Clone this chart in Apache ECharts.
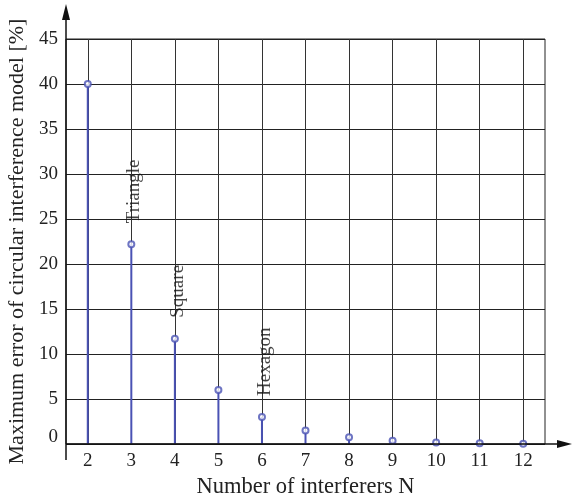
<!DOCTYPE html>
<html><head><meta charset="utf-8">
<script src="https://cdn.jsdelivr.net/npm/echarts@6/dist/echarts.min.js"></script>
<style>html,body{margin:0;padding:0;background:#fff}#c{width:573px;height:495px}</style>
</head><body><div id="c"></div>
<script>
const categories = ['2','3','4','5','6','7','8','9','10','11','12'];
const errorValues = [40, 22.2, 11.7, 6.0, 3.0, 1.5, 0.75, 0.35, 0.16, 0.07, 0.03];
const shapeLabels = ['', 'Triangle', 'Square', '', 'Hexagon', '', '', '', '', '', ''];
const yMin = 0, yMax = 45, yStep = 5;
const xTitle = 'Number of interferers N';
const yTitle = 'Maximum error of circular interference model [%]';

const FONT = 'Liberation Serif';
const BLUE = '#4a52b4';
const GRID = {left: 66, right: 28, top: 39, bottom: 51};
const W = 573, H = 495;
const x0 = GRID.left, y0 = H - GRID.bottom;

const chart = echarts.init(document.getElementById('c'), null, {renderer: 'canvas'});
chart.setOption({
  animation: false,
  textStyle: {fontFamily: FONT},
  grid: Object.assign({show: true, borderColor: '#222', borderWidth: 1, backgroundColor: 'transparent',
    containLabel: false, outerBoundsMode: 'none'}, GRID),
  xAxis: {
    type: 'category', data: categories, boundaryGap: true,
    axisLine: {show: false}, axisTick: {show: false}, splitLine: {show: false},
    axisLabel: {fontFamily: FONT, fontSize: 19, color: '#222', margin: 8},
    name: xTitle, nameLocation: 'middle', nameGap: 32,
    nameTextStyle: {fontFamily: FONT, fontSize: 22.5, color: '#222'}
  },
  yAxis: {
    type: 'value', min: yMin, max: yMax, interval: yStep,
    axisLine: {show: false}, axisTick: {show: false},
    splitLine: {show: true, lineStyle: {color: '#222', width: 1}},
    axisLabel: {fontFamily: FONT, fontSize: 19, color: '#222', margin: 8,
      formatter: v => v === 0 ? '{z|0}' : String(v),
      rich: {z: {fontFamily: FONT, fontSize: 19, color: '#222', padding: [0, 0, 14, 0]}}},
    name: yTitle, nameLocation: 'middle', nameGap: 38,
    nameTextStyle: {fontFamily: FONT, fontSize: 22, color: '#222'}
  },
  series: [
    {
      type: 'line', data: categories.map(() => '-'), z: 1, silent: true,
      markLine: {
        z: 1, silent: true, symbol: ['none', 'none'], label: {show: false},
        lineStyle: {color: '#333', width: 1, type: 'solid'},
        data: categories.map(c => ({xAxis: c}))
      }
    },
    {
      type: 'bar', data: errorValues, barWidth: 2, z: 6,
      itemStyle: {color: BLUE}
    },
    {
      type: 'scatter', data: errorValues.map((v, i) => ({value: v, label: {show: !!shapeLabels[i], formatter: shapeLabels[i]}})),
      symbol: 'emptyCircle', symbolSize: 6, z: 7,
      itemStyle: {color: BLUE, borderColor: BLUE, borderWidth: 1.5},
      label: {position: 'top', distance: 17, rotate: 90, align: 'left', verticalAlign: 'middle',
        offset: [0, 3], fontFamily: FONT, fontSize: 19, color: '#111'}
    }
  ],
  graphic: [
    {type: 'line', shape: {x1: x0, y1: y0 + 16, x2: x0, y2: 16}, style: {stroke: '#111', lineWidth: 1.5}, z: 10},
    {type: 'polygon', shape: {points: [[x0 - 4, 20], [x0 + 4, 20], [x0, 4]]}, style: {fill: '#111'}, z: 10},
    {type: 'line', shape: {x1: x0, y1: y0, x2: W - 12, y2: y0}, style: {stroke: '#111', lineWidth: 1.5}, z: 10},
    {type: 'polygon', shape: {points: [[W - 16, y0 - 4], [W - 16, y0 + 4], [W - 1, y0]]}, style: {fill: '#111'}, z: 10}
  ]
});
</script></body></html>
